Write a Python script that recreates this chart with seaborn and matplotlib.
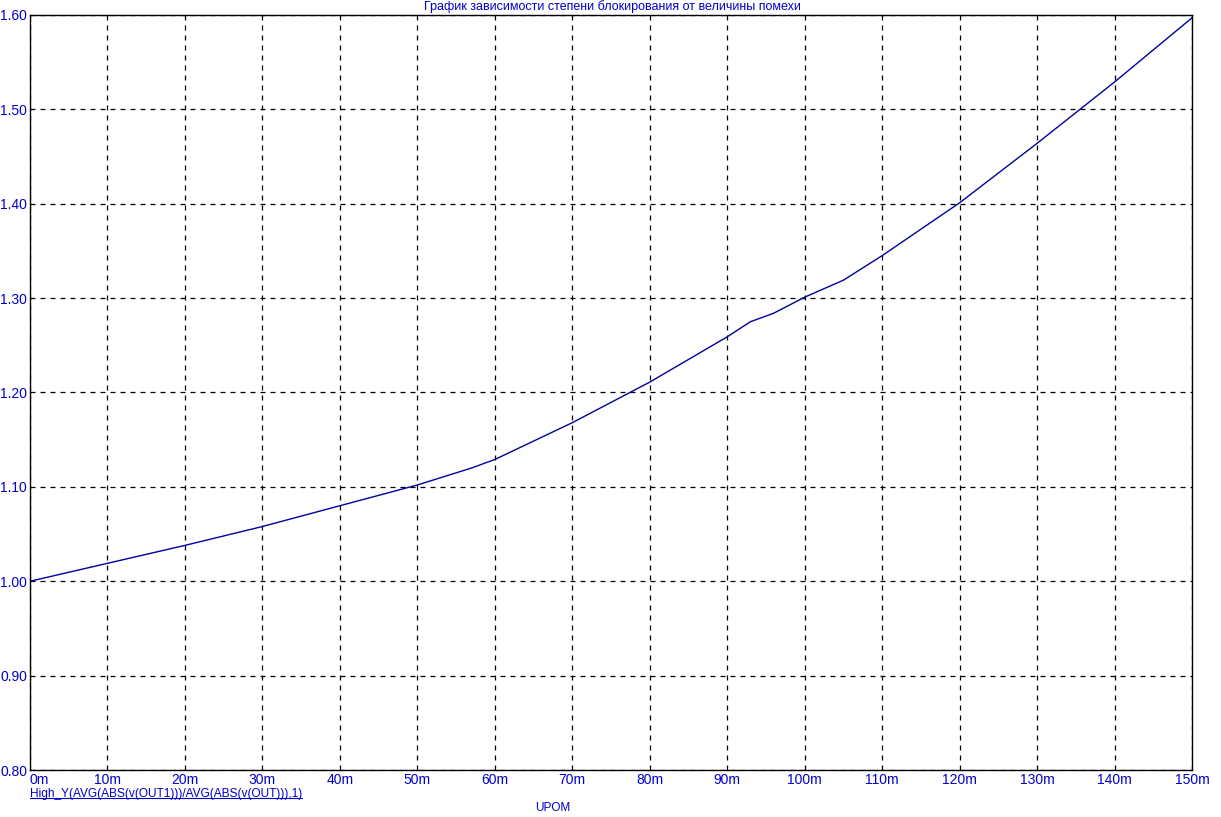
import matplotlib
matplotlib.use("Agg")
import matplotlib.pyplot as plt
import seaborn as sns
import pandas as pd
from matplotlib.ticker import FuncFormatter, MultipleLocator
from matplotlib.lines import Line2D

# UPOM, mV  -> ratio of blocking
upom_mv = [0, 10, 20, 30, 40, 50, 57, 60, 70, 80, 90, 93, 96, 100, 105, 110, 120, 130, 140, 150]
ratio = [1.000, 1.019, 1.038, 1.058, 1.080, 1.102, 1.120, 1.129, 1.168, 1.211,
         1.259, 1.275, 1.284, 1.301, 1.319, 1.345, 1.401, 1.464, 1.529, 1.597]

title_text = "График зависимости степени блокирования от величины помехи"
trace_name = "High_Y(AVG(ABS(v(OUT1)))/AVG(ABS(v(OUT))),1)"
x_name = "UPOM"

df = pd.DataFrame({"upom": upom_mv, "ratio": ratio})

sns.set_style("white")
plt.rcParams["font.family"] = ["Liberation Sans", "DejaVu Sans"]

blue = "#0000CC"
fig = plt.figure(figsize=(12.21, 8.17), dpi=100)
ax = fig.add_axes([30 / 1221, 47 / 817, 1162 / 1221, 755 / 817])

sns.lineplot(data=df, x="upom", y="ratio", ax=ax, color="#0000A0", linewidth=1.0)

ax.set_xlim(0, 150)
ax.set_ylim(0.8, 1.6)
ax.xaxis.set_major_locator(MultipleLocator(10))
ax.yaxis.set_major_locator(MultipleLocator(0.1))
ax.xaxis.set_major_formatter(FuncFormatter(lambda v, p: f"{v:.0f}m"))
ax.yaxis.set_major_formatter(FuncFormatter(lambda v, p: f"{v:.2f}"))
ax.tick_params(axis="both", length=0, labelsize=10, labelcolor=blue)
ax.tick_params(axis="x", pad=2)
ax.tick_params(axis="y", pad=2)
ax.grid(True, color="black", linestyle=(0, (4, 4)), linewidth=0.9)
ax.set_xlabel("")
ax.set_ylabel("")
for s in ax.spines.values():
    s.set_color("black")
    s.set_linewidth(1.0)

fig.text(612 / 1221, 1 - 7 / 817, title_text, color=blue, fontsize=9,
         ha="center", va="center")

t = fig.text(30 / 1221, 1 - 794 / 817, trace_name, color=blue, fontsize=8.6,
             ha="left", va="center")
fig.text(553 / 1221, 1 - 808 / 817, x_name, color=blue, fontsize=8.5,
         ha="center", va="center")

# first x label sits right of the axis corner, as in the original
fig.canvas.draw()
for lab in ax.get_xticklabels():
    if lab.get_text() == "0m":
        lab.set_ha("left")

# underline the trace name
bb = t.get_window_extent().transformed(fig.transFigure.inverted())
fig.add_artist(Line2D([bb.x0, bb.x1], [bb.y0 + 0.002, bb.y0 + 0.002],
                      transform=fig.transFigure, color=blue, linewidth=0.8))

fig.savefig("out.png", dpi=100)
